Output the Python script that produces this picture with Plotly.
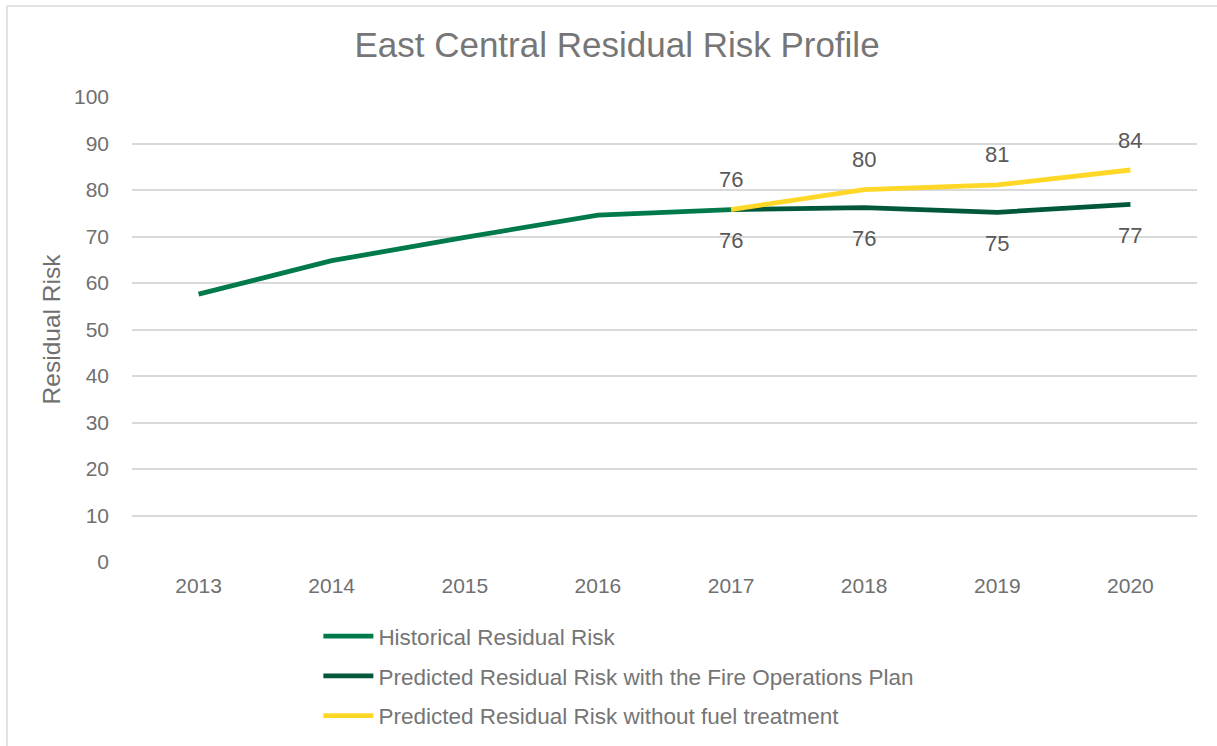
import plotly.graph_objects as go

years = ["2013", "2014", "2015", "2016", "2017", "2018", "2019", "2020"]
hist_years = ["2013", "2014", "2015", "2016", "2017"]
historical = [57.6, 64.8, 69.8, 74.6, 75.8]
pred_years = ["2017", "2018", "2019", "2020"]
with_plan = [75.8, 76.2, 75.2, 76.9]
without_fuel = [75.8, 80.1, 81.1, 84.3]
with_plan_labels = ["76", "76", "75", "77"]
without_fuel_labels = ["76", "80", "81", "84"]
y_ticks = [0, 10, 20, 30, 40, 50, 60, 70, 80, 90, 100]

FONT = "Liberation Sans, Arial, sans-serif"
C_HIST = "#007A4B"
C_PLAN = "#00573B"
C_FUEL = "#FFD726"

fig = go.Figure()
fig.add_trace(go.Scatter(x=hist_years, y=historical, mode="lines",
                         name="Historical Residual Risk", legendgroup="a",
                         line=dict(color=C_HIST, width=4.8)))
fig.add_trace(go.Scatter(x=pred_years, y=with_plan, mode="lines",
                         name="Predicted Residual Risk with the Fire Operations Plan", legendgroup="b",
                         line=dict(color=C_PLAN, width=4.8)))
fig.add_trace(go.Scatter(x=pred_years, y=without_fuel, mode="lines",
                         name="Predicted Residual Risk without fuel treatment", legendgroup="c",
                         line=dict(color=C_FUEL, width=4.8)))

annotations = []
for xv, yv, t in zip(pred_years, without_fuel, without_fuel_labels):
    annotations.append(dict(x=years.index(xv), y=yv, text=t, showarrow=False, yshift=30,
                            font=dict(family=FONT, size=22, color="#595959")))
for xv, yv, t in zip(pred_years, with_plan, with_plan_labels):
    annotations.append(dict(x=years.index(xv), y=yv, text=t, showarrow=False, yshift=-31,
                            font=dict(family=FONT, size=22, color="#595959")))

border = dict(color="#D9D9D9", width=1.5)

fig.update_layout(
    width=1217, height=746,
    paper_bgcolor="white", plot_bgcolor="white",
    margin=dict(l=132, r=20, t=97, b=184, autoexpand=False),
    font=dict(family=FONT, color="#757575"),
    title=dict(text="East Central Residual Risk Profile", x=0.507, xanchor="center",
               y=0.94, yanchor="middle",
               font=dict(family=FONT, size=35, color="#767676")),
    xaxis=dict(type="category", categoryorder="array", categoryarray=years,
               range=[-0.5, len(years) - 0.5],
               showgrid=False, zeroline=False, showline=False, ticks="",
               tickfont=dict(family=FONT, size=21, color="#707070"), ticklabelstandoff=9),
    yaxis=dict(range=[0, 100], tickvals=y_ticks, showgrid=True, gridcolor="#D9D9D9",
               gridwidth=1.5, zeroline=False, showline=False, ticks="",
               tickfont=dict(family=FONT, size=21, color="#707070"),
               ticklabelstandoff=22,
               title=dict(text="Residual Risk", font=dict(family=FONT, size=24.5, color="#707070"),
                          standoff=6)),
    legend=dict(orientation="v", x=0.175, xanchor="left", y=-0.114, yanchor="top",
                font=dict(family=FONT, size=22.5, color="#757575"),
                itemwidth=50,
                traceorder="grouped", tracegroupgap=7.5, bgcolor="rgba(0,0,0,0)"),
    annotations=annotations,
    shapes=[
        dict(type="line", xref="paper", yref="paper", x0=-0.1174, x1=-0.1174,
             y0=-0.5, y1=1.1957, line=border, layer="below"),
        dict(type="line", xref="paper", yref="paper", x0=-0.1174, x1=1.1,
             y0=1.1957, y1=1.1957, line=border, layer="below"),
    ],
    showlegend=True,
)

fig.write_html("out.html", config={"displayModeBar": False},
               post_script="document.body.style.margin='0';document.body.style.overflow='hidden';")
